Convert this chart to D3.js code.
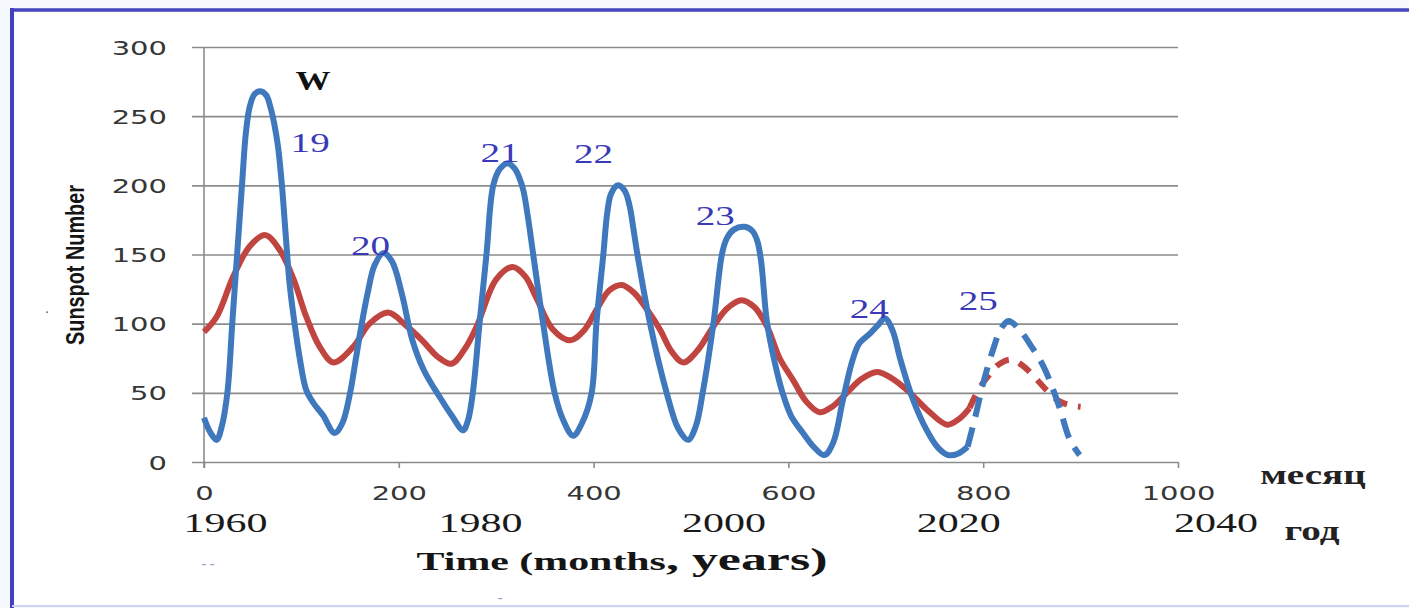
<!DOCTYPE html>
<html lang="ru">
<head>
<meta charset="utf-8">
<script src="https://d3js.org/d3.v7.min.js"></script>
<style>
  body { margin: 0; background: #f5f8fc; }
  svg { display: block; }
</style>
</head>
<body>
<script>
// months from Jan 1960, sunspot number W
var blueMonths = [0, 6, 13, 18, 24, 29, 34, 39, 43, 47, 52, 58, 64, 68, 72, 76, 80, 84, 88, 93, 99, 105, 113, 122, 134, 142, 150, 156, 162, 168, 175, 184, 193, 203, 214, 226, 242, 254, 266, 271, 276, 283, 290, 297, 304, 312, 319, 324, 328, 333, 338, 348, 360, 369, 379, 388, 398, 403, 410, 414, 418, 425, 432, 437, 441, 445, 458, 475, 487, 497, 505, 512, 523, 532, 537, 544, 555, 563, 568, 572, 578, 586, 594, 603, 615, 626, 637, 646, 656, 666, 673, 684, 692, 699, 707, 715, 728, 742, 754, 764, 774, 784];
var blueValues = [32, 22, 16, 25, 50, 100, 150, 200, 238, 257, 266, 268, 265, 257, 245, 228, 200, 163, 128, 100, 72, 52, 42, 34, 21, 28, 50, 75, 100, 122, 142, 151, 145, 122, 88, 66, 47, 34, 23, 30, 50, 101, 150, 200, 212, 216, 212, 205, 196, 175, 150, 101, 50, 30, 19, 28, 50, 101, 150, 180, 194, 200, 196, 185, 168, 150, 100, 50, 24, 16, 26, 50, 100, 151, 162, 168, 170, 167, 160, 145, 101, 72, 50, 33, 21, 11, 5, 14, 45, 74, 86, 93, 99, 104, 95, 74, 45, 23, 10, 5, 6, 11];
var blueForecastMonths = [784, 792, 800, 810, 818, 826, 838, 850, 862, 872, 879, 889, 899];
var blueForecastValues = [11, 33, 57, 81, 96, 102, 95, 83, 69, 52, 38, 16, 5];

var redMonths = [0, 13, 30, 47, 63, 78, 92, 105, 119, 133, 153, 170, 189, 207, 224, 240, 254, 268, 280, 300, 317, 330, 341, 358, 376, 390, 403, 416, 429, 442, 455, 468, 480, 492, 506, 523, 537, 552, 565, 578, 591, 605, 618, 632, 645, 660, 675, 691, 705, 715, 725, 742, 763, 775, 786];
var redValues = [94, 105, 134, 156, 164, 153, 132, 105, 83, 72, 83, 100, 108, 99, 88, 76, 71, 82, 98, 132, 141, 134, 119, 96, 88, 95, 110, 124, 128, 122, 110, 96, 80, 72, 80, 98, 111, 117, 112, 98, 75, 59, 44, 36, 40, 50, 60, 65, 61, 56, 50, 38, 27, 31, 39];
var redForecastMonths = [786, 795, 805, 815, 828, 840, 852, 865, 878, 890, 900];
var redForecastValues = [39, 52, 62, 70, 74, 70, 62, 52, 44, 41, 40];

// cycle numbers, placed at (month, value)
var cycleNames = ["19", "20", "21", "22", "23", "24", "25"];
var cycleMonths = [109, 171, 304, 400, 525, 683, 795];
var cycleValues = [224, 150, 217, 216, 171, 104, 110];

var yTicks = [0, 50, 100, 150, 200, 250, 300];
var xTicks = [0, 200, 400, 600, 800, 1000];
var yearLabels = ["1960", "1980", "2000", "2020", "2040"];
var yearMonths = [22, 284, 534, 775, 1039];

var width = 1409, height = 608;
var SX = 1.45; // the picture is stretched sideways

var svg = d3.select("body").append("svg")
  .attr("width", width)
  .attr("height", height);

// frame
svg.append("rect").attr("x", 12).attr("y", 10).attr("width", width - 12).attr("height", height - 13)
  .attr("fill", "#fff");
svg.append("line").attr("x1", 10).attr("x2", width).attr("y1", 10).attr("y2", 10)
  .attr("stroke", "#4545c2").attr("stroke-width", 3.5);
svg.append("line").attr("x1", 12).attr("x2", 12).attr("y1", 8).attr("y2", height)
  .attr("stroke", "#4040c0").attr("stroke-width", 4);
svg.append("line").attr("x1", 12).attr("x2", width).attr("y1", 606).attr("y2", 606)
  .attr("stroke", "#cfd0f2").attr("stroke-width", 2);

var x = d3.scaleLinear().domain([0, 1000]).range([204, 1178]);
var y = d3.scaleLinear().domain([0, 300]).range([462, 47]);

// horizontal grid (also makes the y tick marks)
svg.append("g")
  .attr("transform", "translate(1178,0)")
  .call(d3.axisLeft(y).tickValues(yTicks).tickSize(1178 - 192).tickFormat(""))
  .call(function (g) {
    g.select(".domain").remove();
    g.selectAll("line").attr("stroke", "#8c8c8c").attr("stroke-width", 1.6);
  });

// y axis
var yAxis = svg.append("g")
  .attr("transform", "translate(204,0)")
  .call(d3.axisLeft(y).tickValues(yTicks).tickSize(0).tickPadding(0));
yAxis.select(".domain").attr("stroke", "#8c8c8c").attr("stroke-width", 1.6)
  .attr("d", "M0," + y(300) + "V" + (y(0) + 6));

// x axis
var xAxis = svg.append("g")
  .attr("transform", "translate(0,462)")
  .call(d3.axisBottom(x).tickValues(xTicks).tickFormat(d3.format("d")).tickSize(6).tickSizeOuter(0));
xAxis.select(".domain").remove();
xAxis.selectAll("line").attr("stroke", "#8c8c8c").attr("stroke-width", 1.6);

// stretched tick text
yAxis.selectAll("text").each(function () {
  d3.select(this).attr("x", 0).attr("dy", null).attr("y", 0)
    .attr("text-anchor", "end")
    .attr("transform", "translate(-37,7) scale(" + SX + ",1)");
});
xAxis.selectAll("text").each(function () {
  d3.select(this).attr("y", 0).attr("dy", null)
    .attr("transform", "translate(0,38) scale(" + SX + ",1)");
});
svg.selectAll(".tick text")
  .attr("font-family", "DejaVu Sans, Verdana, sans-serif")
  .attr("font-size", 20)
  .attr("fill", "#363636");

// year labels under the month ticks
svg.append("g").selectAll("text")
  .data(yearLabels)
  .join("text")
  .attr("transform", function (d, i) { return "translate(" + x(yearMonths[i]) + ",532) scale(1.5,1)"; })
  .attr("text-anchor", "middle")
  .attr("font-family", "Liberation Serif, Times New Roman, serif")
  .attr("font-size", 28)
  .attr("fill", "#1a1a1a")
  .text(function (d) { return d; });

// curves
var line = d3.line()
  .x(function (d) { return x(d[0]); })
  .y(function (d) { return y(d[1]); })
  .curve(d3.curveCatmullRom.alpha(0.5));

function pairs(ms, vs) {
  return ms.map(function (m, i) { return [m, vs[i]]; });
}

svg.append("path")
  .attr("d", line(pairs(redMonths, redValues)))
  .attr("fill", "none").attr("stroke", "#c0443f").attr("stroke-width", 6)
  .attr("stroke-linejoin", "round");
svg.append("path")
  .attr("d", line(pairs(redForecastMonths, redForecastValues)))
  .attr("fill", "none").attr("stroke", "#c0443f").attr("stroke-width", 6)
  .attr("stroke-dasharray", "14,11");
svg.append("path")
  .attr("d", line(pairs(blueMonths, blueValues)))
  .attr("fill", "none").attr("stroke", "#4078bd").attr("stroke-width", 6)
  .attr("stroke-linejoin", "round");
svg.append("path")
  .attr("d", line(pairs(blueForecastMonths, blueForecastValues)))
  .attr("fill", "none").attr("stroke", "#4078bd").attr("stroke-width", 6)
  .attr("stroke-dasharray", "20,11");

// cycle numbers
svg.append("g").selectAll("text")
  .data(cycleNames)
  .join("text")
  .attr("transform", function (d, i) {
    return "translate(" + x(cycleMonths[i]) + "," + y(cycleValues[i]) + ") scale(" + SX + ",1)";
  })
  .attr("text-anchor", "middle")
  .attr("font-family", "Liberation Serif, Times New Roman, serif")
  .attr("font-size", 27)
  .attr("fill", "#3a3ab8")
  .text(function (d) { return d; });

svg.append("text")
  .attr("transform", "translate(" + x(112) + "," + y(269) + ") scale(1.25,1)")
  .attr("text-anchor", "middle")
  .attr("font-family", "Liberation Serif, Times New Roman, serif")
  .attr("font-weight", "bold")
  .attr("font-size", 28)
  .attr("fill", "#111")
  .text("W");

// axis titles
var ylab = svg.append("text")
  .attr("text-anchor", "middle")
  .attr("font-family", "Liberation Sans, Arial, sans-serif")
  .attr("font-weight", "bold")
  .attr("font-size", 25)
  .attr("fill", "#151515")
  .text("Sunspot Number");
var yw = ylab.node().getComputedTextLength();
ylab.attr("transform", "translate(84,265) rotate(-90) scale(" + (160 / yw) + ",1)");

var title = svg.append("text")
  .attr("text-anchor", "middle")
  .attr("font-family", "Liberation Serif, Times New Roman, serif")
  .attr("font-weight", "bold")
  .attr("fill", "#151515");
title.append("tspan").attr("font-size", 25).text("Time (months");
title.append("tspan").attr("font-size", 31).text(", years)");
var tw = title.node().getComputedTextLength();
title.attr("transform", "translate(622,570) scale(" + (411 / tw) + ",1)");

svg.append("text")
  .attr("transform", "translate(1313,484) scale(1.45,1)")
  .attr("text-anchor", "middle")
  .attr("font-family", "Liberation Serif, Times New Roman, serif")
  .attr("font-weight", "bold")
  .attr("font-size", 27)
  .attr("fill", "#222")
  .text("месяц");
svg.append("text")
  .attr("transform", "translate(1312,540) scale(1.45,1)")
  .attr("text-anchor", "middle")
  .attr("font-family", "Liberation Serif, Times New Roman, serif")
  .attr("font-weight", "bold")
  .attr("font-size", 27)
  .attr("fill", "#222")
  .text("год");

// stray marks in the scan
svg.append("text").attr("x", 208).attr("y", 568).attr("text-anchor", "middle")
  .attr("font-size", 14).attr("fill", "#8a97c4").text("- -");
svg.append("text").attr("x", 500).attr("y", 602).attr("text-anchor", "middle")
  .attr("font-size", 14).attr("fill", "#8a97c4").text("-");
svg.append("text").attr("x", 47).attr("y", 317).attr("text-anchor", "middle")
  .attr("font-size", 14).attr("fill", "#555").text("·");
</script>
</body>
</html>
